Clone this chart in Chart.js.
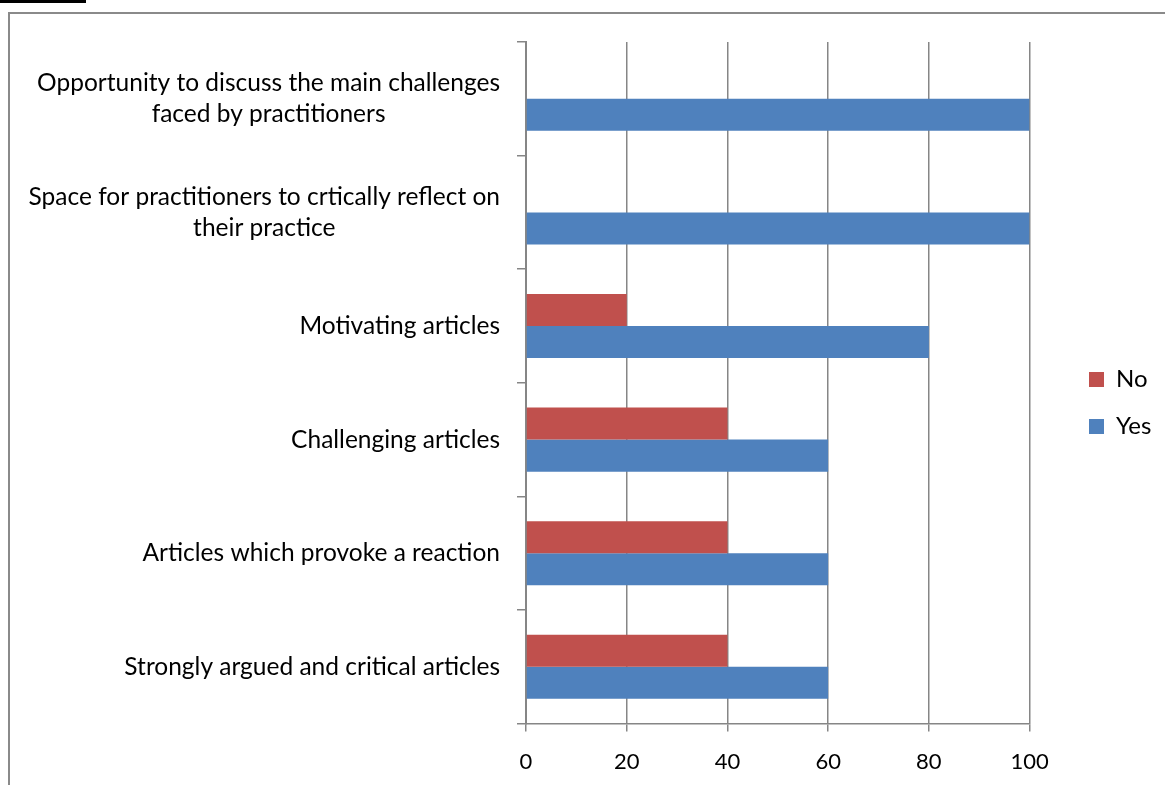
<!DOCTYPE html>
<html>
<head>
<meta charset="utf-8">
<script src="https://cdn.jsdelivr.net/npm/chart.js@4"></script>
<style>
  html, body { margin: 0; padding: 0; background: #fff; width: 1165px; height: 785px; overflow: hidden; }
  #frame { position: absolute; left: 8px; top: 12px; width: 1200px; height: 800px; border-top: 2px solid #8a8a8a; border-left: 2px solid #8a8a8a; }
  #topbar { position: absolute; left: 0; top: 0; width: 86px; height: 3px; background: #000; }
  #wrap { position: absolute; left: 0; top: 0; width: 1165px; height: 785px; }
</style>
</head>
<body>
<div id="topbar"></div>
<div id="frame"></div>
<div id="wrap"><canvas id="c" width="1165" height="785"></canvas></div>
<script>
const categories = [
  ["Opportunity to discuss the main challenges", "faced by practitioners"],
  ["Space for practitioners to crtically reflect on", "their practice"],
  ["Motivating articles"],
  ["Challenging articles"],
  ["Articles which provoke a reaction"],
  ["Strongly argued and critical articles"]
];
const noValues  = [0, 0, 20, 40, 40, 40];
const yesValues = [100, 100, 80, 60, 60, 60];
const xTicks = [0, 20, 40, 60, 80, 100];

const FONT = "Lato";
const GRID = "#868686";
const LEG_PAD = 23;

const labelPlugin = {
  id: 'catLabels',
  afterDraw(chart) {
    const ys = chart.scales.y;
    const ctx = chart.ctx;
    ctx.save();
    ctx.font = "24.5px " + FONT;
    ctx.fillStyle = "#000";
    ctx.textBaseline = "middle";
    ctx.textAlign = "center";
    const right = ys.left - 17;
    const lh = 31;
    categories.forEach((lines, i) => {
      const yc = ys.getPixelForValue(i);
      const w = Math.max(...lines.map(l => ctx.measureText(l).width));
      const cx = right - w / 2;
      lines.forEach((l, j) => {
        ctx.fillText(l, cx, yc + (j - (lines.length - 1) / 2) * lh);
      });
    });
    ctx.restore();
  }
};

const legendShift = {
  id: 'legendShift',
  afterLayout(chart) {
    const lg = chart.legend;
    const dx = 1089 - LEG_PAD - lg.left;
    lg.left += dx; lg.right += dx;
    lg.top -= 4; lg.bottom -= 4;
  }
};

new Chart(document.getElementById('c'), {
  type: 'bar',
  data: {
    labels: categories.map(c => c.join(' ')),
    datasets: [
      { label: 'No', data: noValues, backgroundColor: '#C0504D', borderWidth: 0 },
      { label: 'Yes', data: yesValues, backgroundColor: '#4F81BD', borderWidth: 0 }
    ]
  },
  options: {
    indexAxis: 'y',
    responsive: false,
    animation: false,
    devicePixelRatio: 1,
    layout: { padding: { left: 517, top: 42, bottom: 13, right: 40 } },
    datasets: { bar: { categoryPercentage: 0.564, barPercentage: 1.0 } },
    scales: {
      x: {
        min: 0, max: 100,
        afterBuildTicks(scale) { scale.ticks = xTicks.map(v => ({ value: v })); },
        afterFit(scale) { scale.height -= 20; },
        grid: { color: GRID, lineWidth: 1.5, tickLength: 8, drawTicks: true },
        border: { color: GRID, width: 1.5 },
        ticks: { color: '#000', font: { family: FONT, size: 22 }, padding: 17 }
      },
      y: {
        offset: true,
        grid: { offset: true, drawOnChartArea: false, drawTicks: true, tickLength: 9, color: GRID, lineWidth: 1.5 },
        border: { color: GRID, width: 2 },
        ticks: { display: false }
      }
    },
    plugins: {
      legend: {
        position: 'right',
        labels: { boxWidth: 15, boxHeight: 15, padding: LEG_PAD, color: '#000', font: { family: FONT, size: 24 } }
      },
      tooltip: { enabled: false }
    }
  },
  plugins: [labelPlugin, legendShift]
});
</script>
</body>
</html>
